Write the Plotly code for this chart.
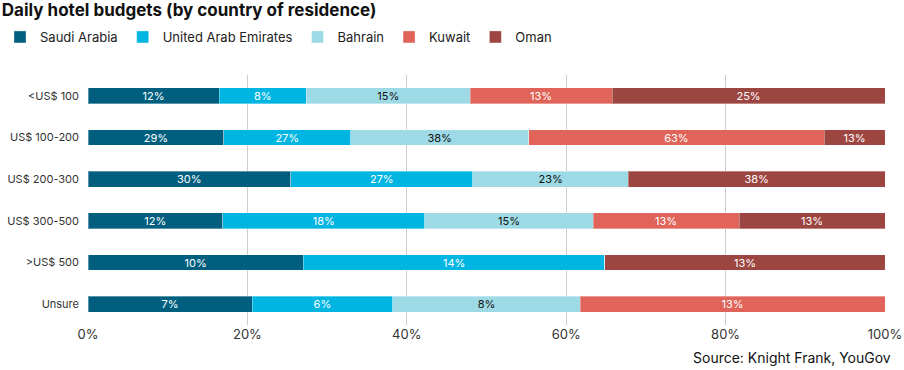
import plotly.graph_objects as go

categories = ["<US$ 100", "US$ 100-200", "US$ 200-300", "US$ 300-500", ">US$ 500", "Unsure"]
series_names = ["Saudi Arabia", "United Arab Emirates", "Bahrain", "Kuwait", "Oman"]
saudi = [12, 29, 30, 12, 10, 7]
uae = [8, 27, 27, 18, 14, 6]
bahrain = [15, 38, 23, 15, 0, 8]
kuwait = [13, 63, 0, 13, 0, 13]
oman = [25, 13, 38, 13, 13, 0]
tick_vals = [0, 20, 40, 60, 80, 100]
tick_text = ["0%", "20%", "40%", "60%", "80%", "100%"]

colors = ["#005f7f", "#00b5e2", "#9ddae6", "#e0645a", "#9c4541"]
text_colors = ["white", "white", "#111111", "white", "white"]
values = [saudi, uae, bahrain, kuwait, oman]

FONT = "Inter, Liberation Sans, Arial, sans-serif"

fig = go.Figure()
for name, vals, col, tcol in zip(series_names, values, colors, text_colors):
    fig.add_trace(go.Bar(
        y=categories, x=vals, name=name, orientation="h",
        marker=dict(color=col, line=dict(color="rgba(255,255,255,0.35)", width=1)),
        text=[f"{v}%" if v else "" for v in vals],
        textposition="inside", insidetextanchor="middle",
        textfont=dict(color=tcol, size=11, family=FONT),
        constraintext="none",
        cliponaxis=False,
    ))

fig.update_layout(
    barmode="stack", barnorm="percent", bargap=0.62,
    width=904, height=370,
    margin=dict(l=88, r=19, t=75, b=45, autoexpand=False),
    paper_bgcolor="white", plot_bgcolor="white",
    font=dict(family=FONT, color="#222222", size=12),
    title=dict(text="<b>Daily hotel budgets (by country of residence)</b>",
               x=0.002, xanchor="left", xref="container",
               y=0.972, yanchor="middle", yref="container",
               font=dict(size=17, color="#111111", family=FONT)),
    legend=dict(orientation="h", x=-0.009, xanchor="left", xref="container",
                y=0.9, yanchor="middle", yref="container",
                font=dict(size=13, color="#222222"), traceorder="normal",
                itemwidth=30),
    showlegend=True,
)
fig.update_xaxes(range=[0, 100], tickvals=tick_vals, ticktext=tick_text,
                 showgrid=True, gridcolor="#cccccc", gridwidth=1, zeroline=False,
                 tickfont=dict(size=13, color="#333333"), ticks="", showline=False,
                 fixedrange=True, automargin=False)
fig.update_yaxes(autorange="reversed", tickfont=dict(size=11, color="#333333"),
                 ticks="", showgrid=False, ticklabelstandoff=8, automargin=False)

fig.add_annotation(text="Source: Knight Frank, YouGov", xref="paper", yref="paper",
                   x=1, y=-0.128, xanchor="right", yanchor="middle", xshift=8,
                   showarrow=False, font=dict(size=14, color="#111111", family=FONT))

fig.write_html("out.html", config={"displayModeBar": False},
               post_script="document.body.style.margin='0px';")
